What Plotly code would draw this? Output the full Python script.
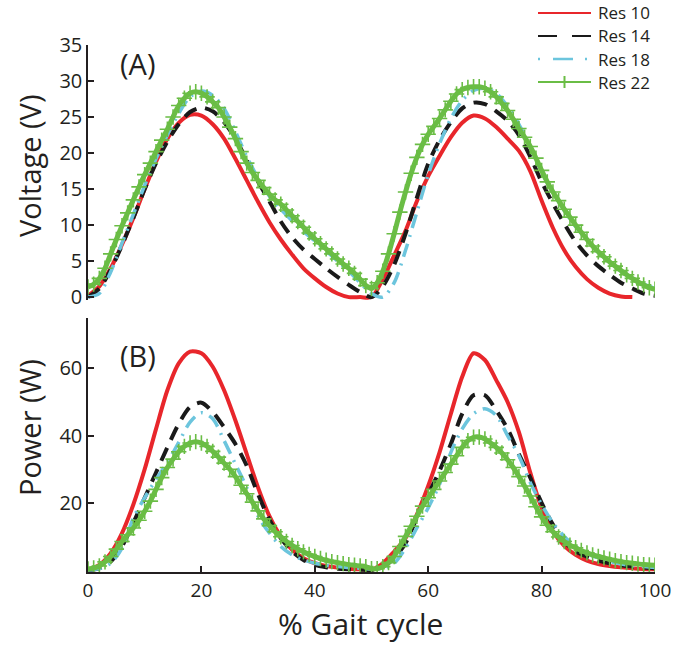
import plotly.graph_objects as go
from plotly.subplots import make_subplots

# ---------------- data ----------------
x_coarse = list(range(0, 101, 2))
x_fine = list(range(0, 101))

series_names = ["Res 10", "Res 14", "Res 18", "Res 22"]

# Voltage (V) -- panel A
v_res10 = [0.2, 1.5, 4.0, 7.3, 11.0, 15.0, 18.8, 22.0, 24.2, 25.3, 25.2, 24.0, 22.0, 19.2, 16.2,
           13.2, 10.4, 8.0, 5.9, 4.0, 2.6, 1.4, 0.5, 0.0, 0.0, 0.0, 2.5, 5.8, 9.2, 13.3, 16.8,
           19.6, 22.2, 24.2, 25.2, 24.8, 23.6, 22.0, 20.3, 17.5, 13.4, 9.6, 6.5, 4.2, 2.5, 1.3,
           0.5, 0.1, 0.0, None, None]
v_res14 = [0.0, 1.2, 3.8, 7.2, 11.0, 15.0, 18.6, 21.6, 24.0, 25.7, 26.3, 25.8, 24.3, 22.0, 19.0,
           16.0, 13.3, 10.5, 8.3, 6.6, 5.3, 4.0, 2.8, 1.7, 0.7, 0.0, 1.5, 4.5, 8.8, 13.8, 18.5,
           21.8, 24.3, 26.2, 27.0, 26.8, 25.8, 24.5, 22.5, 19.5, 16.0, 13.0, 10.2, 7.7, 5.8, 4.3,
           3.1, 2.0, 1.2, 0.5, 0.2]
v_res18 = [0.0, 0.5, 3.5, 7.5, 11.5, 15.5, 19.2, 22.5, 25.5, 27.8, 28.6, 28.0, 26.2, 23.0, 19.5,
           16.5, 14.0, 12.2, 10.6, 9.1, 7.8, 6.4, 5.0, 3.6, 2.0, 0.5, 0.0, 2.0, 6.5, 11.8, 17.0,
           21.3, 24.8, 27.3, 28.7, 29.0, 28.3, 26.5, 24.0, 20.8, 17.4, 14.5, 12.0, 9.8, 7.9, 6.2,
           4.8, 3.6, 2.6, 1.8, 1.2]
v_res22 = [1.4, 1.8, 2.6, 4.0, 6.0, 8.0, 9.9, 11.7, 13.5, 15.3, 17.0, 18.6, 20.2, 21.8, 23.3,
           25.0, 26.6, 27.6, 28.3, 28.5, 28.3, 27.8, 27.1, 26.3, 25.0, 23.6, 22.0, 20.2, 18.6,
           17.3, 16.2, 15.2, 14.3, 13.5, 12.9, 12.1, 11.3, 10.5, 9.7, 8.9, 8.1, 7.4, 6.7, 6.0,
           5.3, 4.6, 4.0, 3.3, 2.5, 1.6, 1.2, 2.0, 3.6, 6.0, 8.8, 11.8, 14.6, 17.2, 19.4, 21.2,
           22.6, 23.7, 24.8, 26.0, 27.2, 28.2, 28.8, 29.1, 29.2, 29.2, 29.0, 28.5, 27.8, 26.9,
           25.9, 24.7, 23.4, 22.2, 20.9, 19.3, 17.6, 16.0, 14.6, 13.4, 12.2, 11.1, 10.0, 9.0,
           8.0, 7.1, 6.3, 5.6, 4.9, 4.3, 3.7, 3.1, 2.6, 2.1, 1.7, 1.3, 1.1]

# Power (W) -- panel B
p_res10 = [0.0, 1.5, 5.0, 11.0, 19.5, 30.0, 42.0, 53.5, 61.5, 65.0, 64.5, 60.5, 53.5, 44.5, 34.5,
           24.5, 16.0, 10.0, 6.0, 3.5, 2.0, 1.2, 0.7, 0.4, 0.2, 0.1, 2.0, 5.5, 9.5, 16.5, 25.0,
           35.0, 46.5, 57.5, 64.5, 62.5, 56.5, 50.0, 41.0, 29.0, 18.5, 11.5, 7.2, 4.5, 2.8, 1.8,
           1.2, 0.8, 0.5, 0.3, 0.2]
p_res14 = [0.0, 0.5, 2.5, 7.0, 14.0, 21.5, 29.0, 36.5, 43.5, 48.5, 49.8, 47.0, 42.5, 37.5, 31.0,
           22.5, 15.0, 9.5, 5.5, 3.0, 1.5, 0.8, 0.4, 0.2, 0.1, 0.0, 1.0, 3.5, 8.0, 15.5, 22.5,
           29.5, 37.5, 46.5, 52.0, 52.0, 47.5, 42.0, 34.5, 27.5, 20.0, 13.5, 8.5, 5.5, 4.0, 2.8,
           2.0, 1.4, 1.0, 0.7, 0.5]
p_res18 = [0.0, 0.4, 2.0, 6.5, 15.5, 21.5, 27.0, 32.0, 38.0, 44.0, 46.8, 45.0, 38.5, 31.5, 24.5,
           16.0, 11.0, 7.0, 4.5, 3.0, 2.0, 1.4, 1.0, 0.7, 0.5, 0.3, 0.5, 2.0, 6.5, 12.5, 18.5,
           25.5, 35.0, 42.0, 46.5, 48.0, 46.0, 40.0, 34.0, 26.0, 19.5, 14.0, 10.0, 7.0, 5.0, 3.5,
           2.5, 1.8, 1.3, 1.0, 0.7]
p_res22 = [0.3, 0.6, 1.2, 2.4, 4.0, 6.2, 8.5, 10.5, 12.5, 14.8, 17.5, 20.5, 24.0, 27.5, 30.5,
           33.0, 35.2, 36.8, 37.8, 38.2, 37.8, 36.8, 35.3, 33.6, 31.8, 30.0, 27.8, 25.2, 22.7,
           20.2, 17.6, 15.2, 13.2, 11.4, 9.9, 8.5, 7.3, 6.3, 5.4, 4.6, 4.0, 3.4, 2.9, 2.5, 2.2,
           1.9, 1.6, 1.4, 1.2, 1.0, 0.4, 0.4, 1.0, 2.2, 4.0, 7.0, 10.0, 13.0, 16.0, 19.0, 21.5,
           24.0, 26.5, 29.0, 31.5, 34.0, 36.5, 38.5, 39.5, 39.6, 39.0, 37.8, 36.5, 34.8, 32.8,
           30.5, 27.8, 25.0, 22.0, 18.8, 15.8, 13.3, 11.4, 9.8, 8.5, 7.4, 6.6, 5.8, 5.1, 4.5,
           4.0, 3.6, 3.2, 2.8, 2.5, 2.2, 2.0, 1.8, 1.6, 1.5, 1.4]

v_ticks = [0, 5, 10, 15, 20, 25, 30, 35]
p_ticks = [20, 40, 60]
x_ticks = [0, 20, 40, 60, 80, 100]

# ---------------- styles ----------------
RED = "#E8262B"
BLACK = "#1A1A1A"
BLUE = "#6CC5DD"
GREEN = "#6ABD45"
FONT = "Open Sans"
TXT = "#231F20"

styles = [
    dict(line=dict(color=RED, width=4), mode="lines"),
    dict(line=dict(color=BLACK, width=4, dash="14px,9px"), mode="lines"),
    dict(line=dict(color=BLUE, width=3.5, dash="14px,7px,2px,7px"), mode="lines"),
    dict(line=dict(color=GREEN, width=5), mode="lines+markers",
         marker=dict(symbol="cross-thin", size=11, line=dict(color=GREEN, width=1.6))),
]

fig = make_subplots(rows=2, cols=1, shared_xaxes=False, vertical_spacing=0.04)

volt = [v_res10, v_res14, v_res18, v_res22]
powr = [p_res10, p_res14, p_res18, p_res22]
for i, name in enumerate(series_names):
    xs = x_fine if i == 3 else x_coarse
    st = styles[i]
    fig.add_trace(go.Scatter(x=xs, y=volt[i], name=name, mode=st["mode"],
                             line=dict(st["line"], shape="spline", smoothing=0.8),
                             marker=st.get("marker"), showlegend=False,
                             connectgaps=False), row=1, col=1)
for i, name in enumerate(series_names):
    xs = x_fine if i == 3 else x_coarse
    st = styles[i]
    fig.add_trace(go.Scatter(x=xs, y=powr[i], name=name, mode=st["mode"],
                             line=dict(st["line"], shape="spline", smoothing=0.8),
                             marker=st.get("marker"), showlegend=False),
                  row=2, col=1)

# panel positions (pixels): plot x 88..655, top panel 45..297, bottom 318..572
W_PLOT = 567.0
H_PLOT = 527.0


def px_x(p):
    return (p - 88) / W_PLOT


def px_y(p):
    return (572 - p) / H_PLOT


fig.update_layout(
    width=699, height=646,
    margin=dict(l=88, r=44, t=45, b=74, autoexpand=False),
    paper_bgcolor="white", plot_bgcolor="white",
    font=dict(family=FONT, color=TXT, size=20),
    showlegend=False,
)

fig.update_xaxes(range=[0, 100], showgrid=False, zeroline=False)
fig.update_layout(
    xaxis=dict(domain=[0, 1], visible=False),
    yaxis=dict(domain=[1 - 255 / H_PLOT, 1], range=[-0.4, 35], tickvals=v_ticks,
               ticks="inside", ticklen=6, tickwidth=1.5, tickcolor=TXT,
               showline=True, linecolor=TXT, linewidth=1.5, showgrid=False, zeroline=False,
               tickfont=dict(size=20)),
    xaxis2=dict(domain=[0, 1], range=[0, 100], tickvals=x_ticks, ticks="inside", ticklen=6,
                tickwidth=1.5, tickcolor=TXT, showline=True, linecolor=TXT, linewidth=1.5,
                showgrid=False, zeroline=False, tickfont=dict(size=19)),
    yaxis2=dict(domain=[0, 254 / H_PLOT], range=[-0.6, 75], tickvals=p_ticks,
                ticks="inside", ticklen=6, tickwidth=1.5, tickcolor=TXT,
                showline=True, linecolor=TXT, linewidth=1.5, showgrid=False, zeroline=False,
                tickfont=dict(size=20)),
)

# axis titles as annotations
fig.add_annotation(x=px_x(29), y=px_y(166), xref="paper", yref="paper", text="Voltage (V)",
                   textangle=-90, showarrow=False, xanchor="center", yanchor="middle",
                   font=dict(size=29, family=FONT, color=TXT))
fig.add_annotation(x=px_x(29), y=px_y(428), xref="paper", yref="paper", text="Power (W)",
                   textangle=-90, showarrow=False, xanchor="center", yanchor="middle",
                   font=dict(size=29, family=FONT, color=TXT))
fig.add_annotation(x=px_x(360), y=px_y(645), xref="paper", yref="paper", text="% Gait cycle",
                   showarrow=False, xanchor="center", yanchor="bottom", borderpad=0,
                   font=dict(size=30, family=FONT, color=TXT))

# panel labels
fig.add_annotation(x=8.8, y=32.4, xref="x", yref="y", text="(A)", showarrow=False,
                   font=dict(size=29, family=FONT, color=TXT))
fig.add_annotation(x=8.8, y=63.8, xref="x2", yref="y2", text="(B)", showarrow=False,
                   font=dict(size=29, family=FONT, color=TXT))

# legend (drawn manually to match the compact original layout)
leg_rows = [13, 36, 59, 82]
leg_x0, leg_x1, leg_tx = 538, 591, 597
leg_styles = [
    dict(color=RED, width=2),
    dict(color=BLACK, width=2, dash="19px,15px"),
    dict(color=BLUE, width=2.5, dash="2px,13px,20px,12px"),
    dict(color=GREEN, width=2),
]
for name, row, ls in zip(series_names, leg_rows, leg_styles):
    fig.add_shape(type="line", xref="paper", yref="paper",
                  x0=px_x(leg_x0), x1=px_x(leg_x1), y0=px_y(row), y1=px_y(row),
                  line=ls)
    fig.add_annotation(x=px_x(leg_tx), y=px_y(row), xref="paper", yref="paper", text=name,
                       showarrow=False, xanchor="left", yanchor="middle", borderpad=0,
                       font=dict(size=17, family=FONT, color=TXT))
# green "+" marker in the legend sample
gx = (leg_x0 + leg_x1) / 2
fig.add_shape(type="line", xref="paper", yref="paper",
              x0=px_x(gx), x1=px_x(gx), y0=px_y(leg_rows[3] - 6), y1=px_y(leg_rows[3] + 6),
              line=dict(color=GREEN, width=2))

fig.write_html("out.html")
